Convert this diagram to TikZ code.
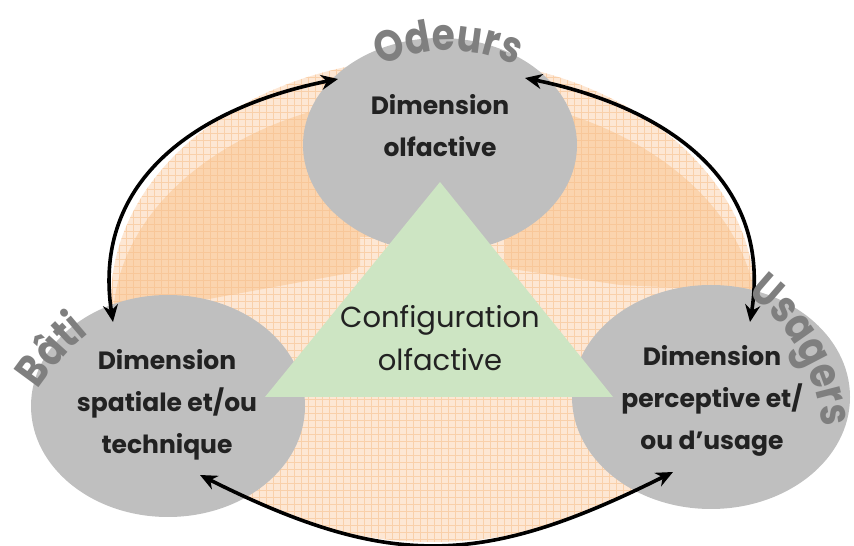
\documentclass[tikz,border=0pt]{standalone}
\usepackage{fontspec}
\setmainfont{Poppins}
\newfontfamily\lblfam[FakeStretch=0.85]{Poppins}
\usetikzlibrary{shapes.geometric,arrows.meta,decorations.text,calc}
\definecolor{peachL}{HTML}{FDE7D4}
\definecolor{peachD}{HTML}{FBD4AE}
\definecolor{gridc}{HTML}{F7BE88}
\definecolor{ellgray}{HTML}{BFBFBF}
\definecolor{trigreen}{HTML}{CDE5C3}
\definecolor{lblgray}{HTML}{7F7F7F}
\definecolor{txtdark}{HTML}{222222}
\newcommand{\lblfont}{\lblfam\bfseries\fontsize{44}{44}\selectfont}
\begin{document}
\begin{tikzpicture}[x=1pt,y=1pt,
  grayell/.style={ellipse, fill=ellgray, draw=none, inner sep=0pt, outer sep=0pt},
  dimtext/.style={align=center, text=txtdark, font=\bfseries\fontsize{25}{42}\selectfont},
  cfgtext/.style={align=center, text=txtdark, font=\fontsize{29}{43}\selectfont},
  conn/.style={black, line width=3.6pt, {Stealth[length=17pt,width=15pt]}-{Stealth[length=17pt,width=15pt]}},
  lbl/.style={decorate}
]
\useasboundingbox (0,0) rectangle (854,546);
% background ellipse
\fill[peachL] (433,246) ellipse [x radius=322, y radius=242];
\begin{scope}
  \clip (433,246) ellipse [x radius=322, y radius=242];
  \clip (100,227) -- (350,273) -- (360,280) -- (360,309) -- (505,309) -- (505,278) -- (620,261) -- (770,254) -- (770,546) -- (100,546) -- cycle;
  \fill[peachD] (435,224) ellipse [x radius=322, y radius=228];
\end{scope}
\begin{scope}
  \clip (433,246) ellipse [x radius=322, y radius=242];
  \draw[gridc, line width=0.6pt, opacity=0.55, step=7pt] (100,0) grid (770,546);
\end{scope}
% gray ellipses
\node[grayell, minimum width=274pt, minimum height=214pt] (olf) at (440,401) {};
\node[grayell, minimum width=274pt, minimum height=222pt] (bati) at (168,140) {};
\node[grayell, minimum width=278pt, minimum height=224pt] (usa) at (711,149) {};
% triangle
\fill[trigreen] (440,364) -- (613,149) -- (265,149) -- cycle;
% texts
\node[dimtext] (olft) at (440,420) {Dimension\\olfactive};
\node[dimtext] (batit) at (167,141) {Dimension\\spatiale et/ou\\technique};
\node[dimtext] (usat) at (712,145) {Dimension\\perceptive et/\\ou d’usage};
\node[cfgtext] (cfg) at (440,208) {Configuration\\olfactive};
% connectors
\draw[conn] ($(olf)+(-102,66)$) .. controls (203,440) and (91,369) .. ($(bati)+(-55,84)$);
\draw[conn] ($(olf)+(85,67)$) .. controls (661,440) and (773,369) .. ($(usa)+(39,75)$);
\draw[conn] ($(bati)+(32,-69)$) .. controls (390,-24) and (483,-21) .. ($(usa)+(-38,-75)$);
% curved labels
\path[lbl, decoration={text along path, text align=center, text color=lblgray, text={|\lblfont|Odeurs}}]
  (338.4,450.1) arc[start angle=135, end angle=45, radius=155];
\path[lbl, decoration={text along path, text align=center, text color=lblgray, text={|\lblfont|Bâti}}]
  (-3.3,28.1) arc[start angle=177.8, end angle=97.8, radius=250];
\path[lbl, decoration={text along path, text align=center, text color=lblgray, text={|\lblfont|Usagers}}]
  (651,290) arc[start angle=84.4, end angle=-25.6, radius=191];
\end{tikzpicture}
\end{document}
